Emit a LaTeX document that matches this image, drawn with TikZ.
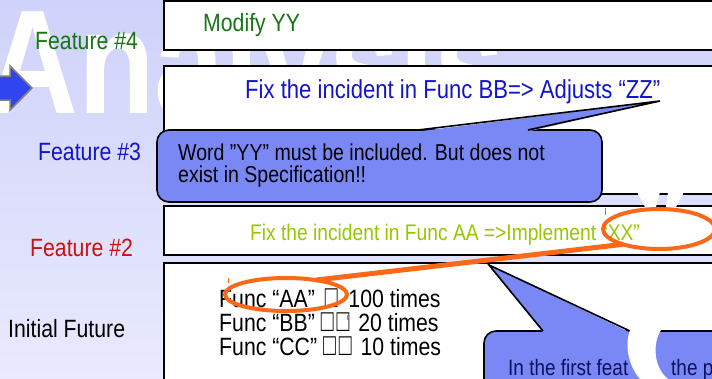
\documentclass[tikz,border=0pt]{standalone}
\usepackage{fontspec}
\setmainfont{Liberation Sans}[FakeStretch=0.85]
\usetikzlibrary{shapes.geometric}

\definecolor{bgtop}{RGB}{207,210,250}
\definecolor{bgbot}{RGB}{233,234,253}
\definecolor{calloutfill}{RGB}{122,136,246}
\definecolor{featgreen}{RGB}{22,118,22}
\definecolor{featblue}{RGB}{20,20,200}
\definecolor{featred}{RGB}{204,16,16}
\definecolor{limetext}{RGB}{150,200,0}
\definecolor{navytext}{RGB}{16,16,96}
\definecolor{markorange}{RGB}{250,104,24}
\definecolor{arrowblue}{RGB}{48,68,240}
\definecolor{arrowedge}{RGB}{128,128,128}

\newcommand\fsz[1]{\fontsize{#1}{#1}\selectfont}
% tall empty-box glyph
\newcommand\tofu{\scalebox{1.0}[1.25]{□}}

\tikzset{
  lanebox/.style={draw=black, fill=white, line width=1.6pt, inner sep=0pt, outer sep=0pt, anchor=north west},
  calloutbox/.style={draw=black, fill=calloutfill, line width=1.6pt, rounded corners=12pt, inner sep=0pt, outer sep=0pt, anchor=north west},
  calloutedge/.style={draw=black, line width=1.6pt, line join=miter},
  ring/.style={ellipse, draw=markorange, line width=4pt, inner sep=0pt, outer sep=0pt},
  label/.style={anchor=base west, inner sep=0pt, font=\fsz{25}},
  boxtext/.style={anchor=base west, inner sep=0pt},
}

\begin{document}
\begin{tikzpicture}[x=1pt, y=-1pt]
\useasboundingbox (0,0) rectangle (712,378);
\clip (0,0) rectangle (712,378);

% page background and the large white backdrop lettering
\shade[top color=bgtop, bottom color=bgbot] (0,0) rectangle (712,378);
\node[anchor=base west, inner sep=0pt, text=white, font=\fsz{148}\bfseries] (mark) at (-13,113) {Analysis};

% arrow at the left edge
\draw[fill=arrowblue, draw=arrowedge, line width=1.5pt, line join=miter]
  (-6,76) -- (10,76) -- (10,66) -- (32,88) -- (10,110) -- (10,100) -- (-6,100) -- cycle;

% row captions
\node[label, text=featgreen] (f4) at (35,49) {Feature \#4};
\node[label, text=featblue]  (f3) at (38,160) {Feature \#3};
\node[label, text=featred]   (f2) at (30,256) {Feature \#2};
\node[label, text=black]     (f1) at (8,337) {Initial Future};

% lane boxes
\node[lanebox, minimum width=620pt, minimum height=49pt]  (b4) at (164,1) {};
\node[lanebox, minimum width=620pt, minimum height=128pt] (b3) at (164,66) {};
\node[lanebox, minimum width=620pt, minimum height=49pt]  (b2) at (164,206) {};
\node[lanebox, minimum width=620pt, minimum height=160pt] (b1) at (164,263) {};

\node[boxtext, text=featgreen, font=\fsz{25}] (t4) at (203,31) {Modify YY};
\node[boxtext, text=featblue,  font=\fsz{26}] (t3) at (245,98) {Fix the incident in Func BB=> Adjusts “ZZ”};
\node[boxtext, text=limetext,  font=\fsz{22.6}] (t2) at (250,240) {Fix the incident in Func AA =>Implement “XX”};
\node[boxtext, font=\fsz{25}] (t1a) at (219,307) {Func “AA” \kern4pt\tofu\ \kern5pt100 times};
\node[boxtext, font=\fsz{25}] (t1b) at (219,331) {Func “BB” \tofu\kern3pt\tofu\ \kern3pt20 times};
\node[boxtext, font=\fsz{25}] (t1c) at (219,355) {Func “CC” \tofu\kern3pt\tofu\ \kern3pt10 times};

% callout on feature #3
\node[calloutbox, minimum width=445pt, minimum height=72pt] (c1) at (157,130) {};
\coordinate (c1tip) at (660,101);
\coordinate (c1l) at (418,130);
\coordinate (c1r) at (528,130);
\fill[calloutfill] ([yshift=-1.5pt]c1l) -- (c1tip) -- ([yshift=-1.5pt]c1r) -- cycle;
\draw[calloutedge] (c1l) -- (c1tip) -- (c1r);
\node[boxtext, font=\fsz{23}] (c1a) at (178,160) {Word ”YY” must be included. But does not};
\node[boxtext, font=\fsz{23}] (c1b) at (178,182) {exist in Specification!!};

% callout on the initial future
\node[calloutbox, minimum width=400pt, minimum height=120pt] (c2) at (484,331) {};
\coordinate (c2tip) at (489,265);
\coordinate (c2l) at (543,331);
\coordinate (c2r) at (630,331);
\fill[calloutfill] ([yshift=-1.5pt]c2l) -- (c2tip) -- ([yshift=-1.5pt]c2r) -- cycle;
\draw[calloutedge] (c2l) -- (c2tip) -- (c2r);
\node[boxtext, text=navytext, font=\fsz{22.3}] (c2a) at (508,375) {In the first feat};
\node[boxtext, text=navytext, font=\fsz{22.3}] (c2b) at (671,375) {the p};

% white lettering pieces lying over the lanes
\fill[white] (637,192) -- (660,192) -- (656,207) -- (645,207) -- cycle;
\fill[white] (668,192) -- (684,192) -- (676,207) -- (666,207) -- cycle;
\fill[white] (630,330) .. controls (625,343) and (627,364) .. (640,379)
  -- (668,379) .. controls (654,368) and (652,344) .. (661,330) -- cycle;

% orange highlight rings and their link
\node[ring, minimum width=122pt, minimum height=33pt] (e1) at (286,294.5) {};
\node[ring, minimum width=112pt, minimum height=40pt] (e2) at (659,229) {};
\draw[markorange, line width=5pt] (e1.26) -- (e2.203);
\draw[markorange, line width=1pt] (228,278) -- (228,283);
\draw[markorange, line width=1pt] (347,315) -- (347,320);
\draw[markorange, line width=1pt] (605,208) -- (605,215);
\end{tikzpicture}
\end{document}
